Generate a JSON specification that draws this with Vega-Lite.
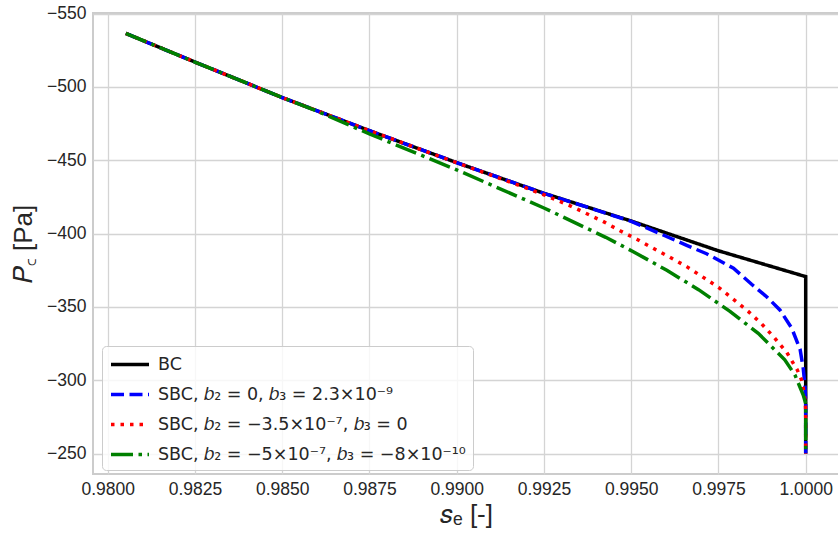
{
  "$schema": "https://vega.github.io/schema/vega-lite/v6.json",
  "width": 746,
  "height": 461,
  "autosize": {"type": "none"},
  "padding": {"left": 93, "top": 13, "right": 0, "bottom": 64},
  "background": "white",
  "config": {
    "view": {"stroke": "#cccccc", "strokeWidth": 2},
    "font": "Liberation Sans",
    "axis": {
      "labelFont": "Liberation Sans",
      "labelFontSize": 17.5,
      "labelColor": "#262626",
      "ticks": false,
      "domain": false,
      "gridColor": "#d4d4d4",
      "gridWidth": 1.3,
      "titleFont": "Liberation Sans",
      "titleFontSize": 26,
      "titleFontWeight": "normal",
      "titleColor": "#262626"
    },
    "legend": {
      "labelFont": "DejaVu Sans",
      "labelFontSize": 17.5,
      "labelColor": "#262626",
      "labelLimit": 500
    }
  },
  "data": {
    "values": [
      {"series": "BC", "i": 0, "s": 0.98052, "p": -536.5},
      {"series": "BC", "i": 1, "s": 0.9825, "p": -517},
      {"series": "BC", "i": 2, "s": 0.985, "p": -492.8},
      {"series": "BC", "i": 3, "s": 0.9875, "p": -470.2},
      {"series": "BC", "i": 4, "s": 0.99, "p": -448.4},
      {"series": "BC", "i": 5, "s": 0.9925, "p": -427.5},
      {"series": "BC", "i": 6, "s": 0.995, "p": -408.6},
      {"series": "BC", "i": 7, "s": 0.9975, "p": -388.3},
      {"series": "BC", "i": 8, "s": 1.0, "p": -370.7},
      {"series": "BC", "i": 9, "s": 1.0, "p": -250},

      {"series": "SBC, 𝑏₂ = 0, 𝑏₃ = 2.3×10⁻⁹", "i": 0, "s": 0.98052, "p": -536.5},
      {"series": "SBC, 𝑏₂ = 0, 𝑏₃ = 2.3×10⁻⁹", "i": 1, "s": 0.9825, "p": -517},
      {"series": "SBC, 𝑏₂ = 0, 𝑏₃ = 2.3×10⁻⁹", "i": 2, "s": 0.985, "p": -492.8},
      {"series": "SBC, 𝑏₂ = 0, 𝑏₃ = 2.3×10⁻⁹", "i": 3, "s": 0.9875, "p": -470.2},
      {"series": "SBC, 𝑏₂ = 0, 𝑏₃ = 2.3×10⁻⁹", "i": 4, "s": 0.99, "p": -448.4},
      {"series": "SBC, 𝑏₂ = 0, 𝑏₃ = 2.3×10⁻⁹", "i": 5, "s": 0.9925, "p": -427.5},
      {"series": "SBC, 𝑏₂ = 0, 𝑏₃ = 2.3×10⁻⁹", "i": 6, "s": 0.995, "p": -408.4},
      {"series": "SBC, 𝑏₂ = 0, 𝑏₃ = 2.3×10⁻⁹", "i": 7, "s": 0.99578, "p": -400.5},
      {"series": "SBC, 𝑏₂ = 0, 𝑏₃ = 2.3×10⁻⁹", "i": 8, "s": 0.99659, "p": -392},
      {"series": "SBC, 𝑏₂ = 0, 𝑏₃ = 2.3×10⁻⁹", "i": 9, "s": 0.99716, "p": -386.3},
      {"series": "SBC, 𝑏₂ = 0, 𝑏₃ = 2.3×10⁻⁹", "i": 10, "s": 0.99793, "p": -376.4},
      {"series": "SBC, 𝑏₂ = 0, 𝑏₃ = 2.3×10⁻⁹", "i": 11, "s": 0.99845, "p": -365.5},
      {"series": "SBC, 𝑏₂ = 0, 𝑏₃ = 2.3×10⁻⁹", "i": 12, "s": 0.99888, "p": -357},
      {"series": "SBC, 𝑏₂ = 0, 𝑏₃ = 2.3×10⁻⁹", "i": 13, "s": 0.99926, "p": -348},
      {"series": "SBC, 𝑏₂ = 0, 𝑏₃ = 2.3×10⁻⁹", "i": 14, "s": 0.9996, "p": -335.5},
      {"series": "SBC, 𝑏₂ = 0, 𝑏₃ = 2.3×10⁻⁹", "i": 15, "s": 0.99984, "p": -321},
      {"series": "SBC, 𝑏₂ = 0, 𝑏₃ = 2.3×10⁻⁹", "i": 16, "s": 0.99993, "p": -308},
      {"series": "SBC, 𝑏₂ = 0, 𝑏₃ = 2.3×10⁻⁹", "i": 17, "s": 0.99998, "p": -296},
      {"series": "SBC, 𝑏₂ = 0, 𝑏₃ = 2.3×10⁻⁹", "i": 18, "s": 1.0, "p": -286},
      {"series": "SBC, 𝑏₂ = 0, 𝑏₃ = 2.3×10⁻⁹", "i": 19, "s": 1.0, "p": -250},

      {"series": "SBC, 𝑏₂ = −3.5×10⁻⁷, 𝑏₃ = 0", "i": 0, "s": 0.98052, "p": -536.5},
      {"series": "SBC, 𝑏₂ = −3.5×10⁻⁷, 𝑏₃ = 0", "i": 1, "s": 0.9825, "p": -517},
      {"series": "SBC, 𝑏₂ = −3.5×10⁻⁷, 𝑏₃ = 0", "i": 2, "s": 0.985, "p": -492.8},
      {"series": "SBC, 𝑏₂ = −3.5×10⁻⁷, 𝑏₃ = 0", "i": 3, "s": 0.9875, "p": -470.2},
      {"series": "SBC, 𝑏₂ = −3.5×10⁻⁷, 𝑏₃ = 0", "i": 4, "s": 0.99, "p": -448.4},
      {"series": "SBC, 𝑏₂ = −3.5×10⁻⁷, 𝑏₃ = 0", "i": 5, "s": 0.991, "p": -439.8},
      {"series": "SBC, 𝑏₂ = −3.5×10⁻⁷, 𝑏₃ = 0", "i": 6, "s": 0.992, "p": -431},
      {"series": "SBC, 𝑏₂ = −3.5×10⁻⁷, 𝑏₃ = 0", "i": 7, "s": 0.9925, "p": -426.5},
      {"series": "SBC, 𝑏₂ = −3.5×10⁻⁷, 𝑏₃ = 0", "i": 8, "s": 0.99325, "p": -419},
      {"series": "SBC, 𝑏₂ = −3.5×10⁻⁷, 𝑏₃ = 0", "i": 9, "s": 0.99418, "p": -408.5},
      {"series": "SBC, 𝑏₂ = −3.5×10⁻⁷, 𝑏₃ = 0", "i": 10, "s": 0.99468, "p": -402},
      {"series": "SBC, 𝑏₂ = −3.5×10⁻⁷, 𝑏₃ = 0", "i": 11, "s": 0.99516, "p": -396.2},
      {"series": "SBC, 𝑏₂ = −3.5×10⁻⁷, 𝑏₃ = 0", "i": 12, "s": 0.99563, "p": -390},
      {"series": "SBC, 𝑏₂ = −3.5×10⁻⁷, 𝑏₃ = 0", "i": 13, "s": 0.99611, "p": -383.9},
      {"series": "SBC, 𝑏₂ = −3.5×10⁻⁷, 𝑏₃ = 0", "i": 14, "s": 0.99659, "p": -377.5},
      {"series": "SBC, 𝑏₂ = −3.5×10⁻⁷, 𝑏₃ = 0", "i": 15, "s": 0.99702, "p": -370.9},
      {"series": "SBC, 𝑏₂ = −3.5×10⁻⁷, 𝑏₃ = 0", "i": 16, "s": 0.9975, "p": -363.4},
      {"series": "SBC, 𝑏₂ = −3.5×10⁻⁷, 𝑏₃ = 0", "i": 17, "s": 0.99793, "p": -355.2},
      {"series": "SBC, 𝑏₂ = −3.5×10⁻⁷, 𝑏₃ = 0", "i": 18, "s": 0.99836, "p": -346.8},
      {"series": "SBC, 𝑏₂ = −3.5×10⁻⁷, 𝑏₃ = 0", "i": 19, "s": 0.99874, "p": -338.4},
      {"series": "SBC, 𝑏₂ = −3.5×10⁻⁷, 𝑏₃ = 0", "i": 20, "s": 0.99909, "p": -329.4},
      {"series": "SBC, 𝑏₂ = −3.5×10⁻⁷, 𝑏₃ = 0", "i": 21, "s": 0.99946, "p": -318.9},
      {"series": "SBC, 𝑏₂ = −3.5×10⁻⁷, 𝑏₃ = 0", "i": 22, "s": 0.99976, "p": -307},
      {"series": "SBC, 𝑏₂ = −3.5×10⁻⁷, 𝑏₃ = 0", "i": 23, "s": 0.99988, "p": -300.3},
      {"series": "SBC, 𝑏₂ = −3.5×10⁻⁷, 𝑏₃ = 0", "i": 24, "s": 0.99995, "p": -292.3},
      {"series": "SBC, 𝑏₂ = −3.5×10⁻⁷, 𝑏₃ = 0", "i": 25, "s": 0.99999, "p": -284.4},
      {"series": "SBC, 𝑏₂ = −3.5×10⁻⁷, 𝑏₃ = 0", "i": 26, "s": 1.0, "p": -279},
      {"series": "SBC, 𝑏₂ = −3.5×10⁻⁷, 𝑏₃ = 0", "i": 27, "s": 1.0, "p": -250},

      {"series": "SBC, 𝑏₂ = −5×10⁻⁷, 𝑏₃ = −8×10⁻¹⁰", "i": 0, "s": 0.98052, "p": -536.5},
      {"series": "SBC, 𝑏₂ = −5×10⁻⁷, 𝑏₃ = −8×10⁻¹⁰", "i": 1, "s": 0.9825, "p": -517},
      {"series": "SBC, 𝑏₂ = −5×10⁻⁷, 𝑏₃ = −8×10⁻¹⁰", "i": 2, "s": 0.985, "p": -492.8},
      {"series": "SBC, 𝑏₂ = −5×10⁻⁷, 𝑏₃ = −8×10⁻¹⁰", "i": 3, "s": 0.986, "p": -483.5},
      {"series": "SBC, 𝑏₂ = −5×10⁻⁷, 𝑏₃ = −8×10⁻¹⁰", "i": 4, "s": 0.9875, "p": -468},
      {"series": "SBC, 𝑏₂ = −5×10⁻⁷, 𝑏₃ = −8×10⁻¹⁰", "i": 5, "s": 0.99, "p": -443.5},
      {"series": "SBC, 𝑏₂ = −5×10⁻⁷, 𝑏₃ = −8×10⁻¹⁰", "i": 6, "s": 0.9925, "p": -417.5},
      {"series": "SBC, 𝑏₂ = −5×10⁻⁷, 𝑏₃ = −8×10⁻¹⁰", "i": 7, "s": 0.99427, "p": -397.5},
      {"series": "SBC, 𝑏₂ = −5×10⁻⁷, 𝑏₃ = −8×10⁻¹⁰", "i": 8, "s": 0.99506, "p": -387.7},
      {"series": "SBC, 𝑏₂ = −5×10⁻⁷, 𝑏₃ = −8×10⁻¹⁰", "i": 9, "s": 0.99602, "p": -375},
      {"series": "SBC, 𝑏₂ = −5×10⁻⁷, 𝑏₃ = −8×10⁻¹⁰", "i": 10, "s": 0.99693, "p": -361.8},
      {"series": "SBC, 𝑏₂ = −5×10⁻⁷, 𝑏₃ = −8×10⁻¹⁰", "i": 11, "s": 0.99783, "p": -347},
      {"series": "SBC, 𝑏₂ = −5×10⁻⁷, 𝑏₃ = −8×10⁻¹⁰", "i": 12, "s": 0.99864, "p": -332},
      {"series": "SBC, 𝑏₂ = −5×10⁻⁷, 𝑏₃ = −8×10⁻¹⁰", "i": 13, "s": 0.9994, "p": -314},
      {"series": "SBC, 𝑏₂ = −5×10⁻⁷, 𝑏₃ = −8×10⁻¹⁰", "i": 14, "s": 0.99969, "p": -303.7},
      {"series": "SBC, 𝑏₂ = −5×10⁻⁷, 𝑏₃ = −8×10⁻¹⁰", "i": 15, "s": 0.99993, "p": -290},
      {"series": "SBC, 𝑏₂ = −5×10⁻⁷, 𝑏₃ = −8×10⁻¹⁰", "i": 16, "s": 1.0, "p": -284},
      {"series": "SBC, 𝑏₂ = −5×10⁻⁷, 𝑏₃ = −8×10⁻¹⁰", "i": 17, "s": 1.0, "p": -250}
    ]
  },
  "mark": {"type": "line", "strokeWidth": 3.5, "clip": true},
  "encoding": {
    "x": {
      "field": "s",
      "type": "quantitative",
      "scale": {"domain": [0.979579, 1.000954], "nice": false, "zero": false},
      "axis": {
        "values": [0.98, 0.9825, 0.985, 0.9875, 0.99, 0.9925, 0.995, 0.9975, 1.0],
        "format": ".4f",
        "labelPadding": 6,
        "titlePadding": 4,
        "title": "𝑠ₑ [-]"
      }
    },
    "y": {
      "field": "p",
      "type": "quantitative",
      "scale": {"domain": [-550.45, -236.1], "reverse": true, "nice": false, "zero": false},
      "axis": {
        "values": [-550, -500, -450, -400, -350, -300, -250],
        "labelPadding": 7,
        "titlePadding": 10,
        "title": "𝑃꜀ [Pa]"
      }
    },
    "color": {
      "field": "series",
      "type": "nominal",
      "scale": {
        "domain": ["BC", "SBC, 𝑏₂ = 0, 𝑏₃ = 2.3×10⁻⁹", "SBC, 𝑏₂ = −3.5×10⁻⁷, 𝑏₃ = 0", "SBC, 𝑏₂ = −5×10⁻⁷, 𝑏₃ = −8×10⁻¹⁰"],
        "range": ["#000000", "#0000ff", "#ff0000", "#008000"]
      },
      "legend": {
        "title": null,
        "orient": "none",
        "legendX": 9,
        "legendY": 333,
        "padding": 7,
        "rowPadding": 10,
        "symbolType": "M-1,0H3",
        "symbolSize": 361,
        "symbolStrokeWidth": 3.5,
        "labelOffset": 26,
        "fillColor": "rgba(255,255,255,0.8)",
        "strokeColor": "#cccccc",
        "cornerRadius": 4
      }
    },
    "strokeDash": {
      "field": "series",
      "type": "nominal",
      "scale": {
        "domain": ["BC", "SBC, 𝑏₂ = 0, 𝑏₃ = 2.3×10⁻⁹", "SBC, 𝑏₂ = −3.5×10⁻⁷, 𝑏₃ = 0", "SBC, 𝑏₂ = −5×10⁻⁷, 𝑏₃ = −8×10⁻¹⁰"],
        "range": [[1, 0], [13, 5.5], [3.5, 6], [22, 5.5, 3.5, 5.5]]
      },
      "legend": {
        "title": null,
        "orient": "none",
        "legendX": 9,
        "legendY": 333,
        "padding": 7,
        "rowPadding": 10,
        "symbolType": "M-1,0H3",
        "symbolSize": 361,
        "symbolStrokeWidth": 3.5,
        "labelOffset": 26,
        "fillColor": "rgba(255,255,255,0.8)",
        "strokeColor": "#cccccc",
        "cornerRadius": 4
      }
    },
    "order": {"field": "i", "type": "quantitative"}
  }
}
